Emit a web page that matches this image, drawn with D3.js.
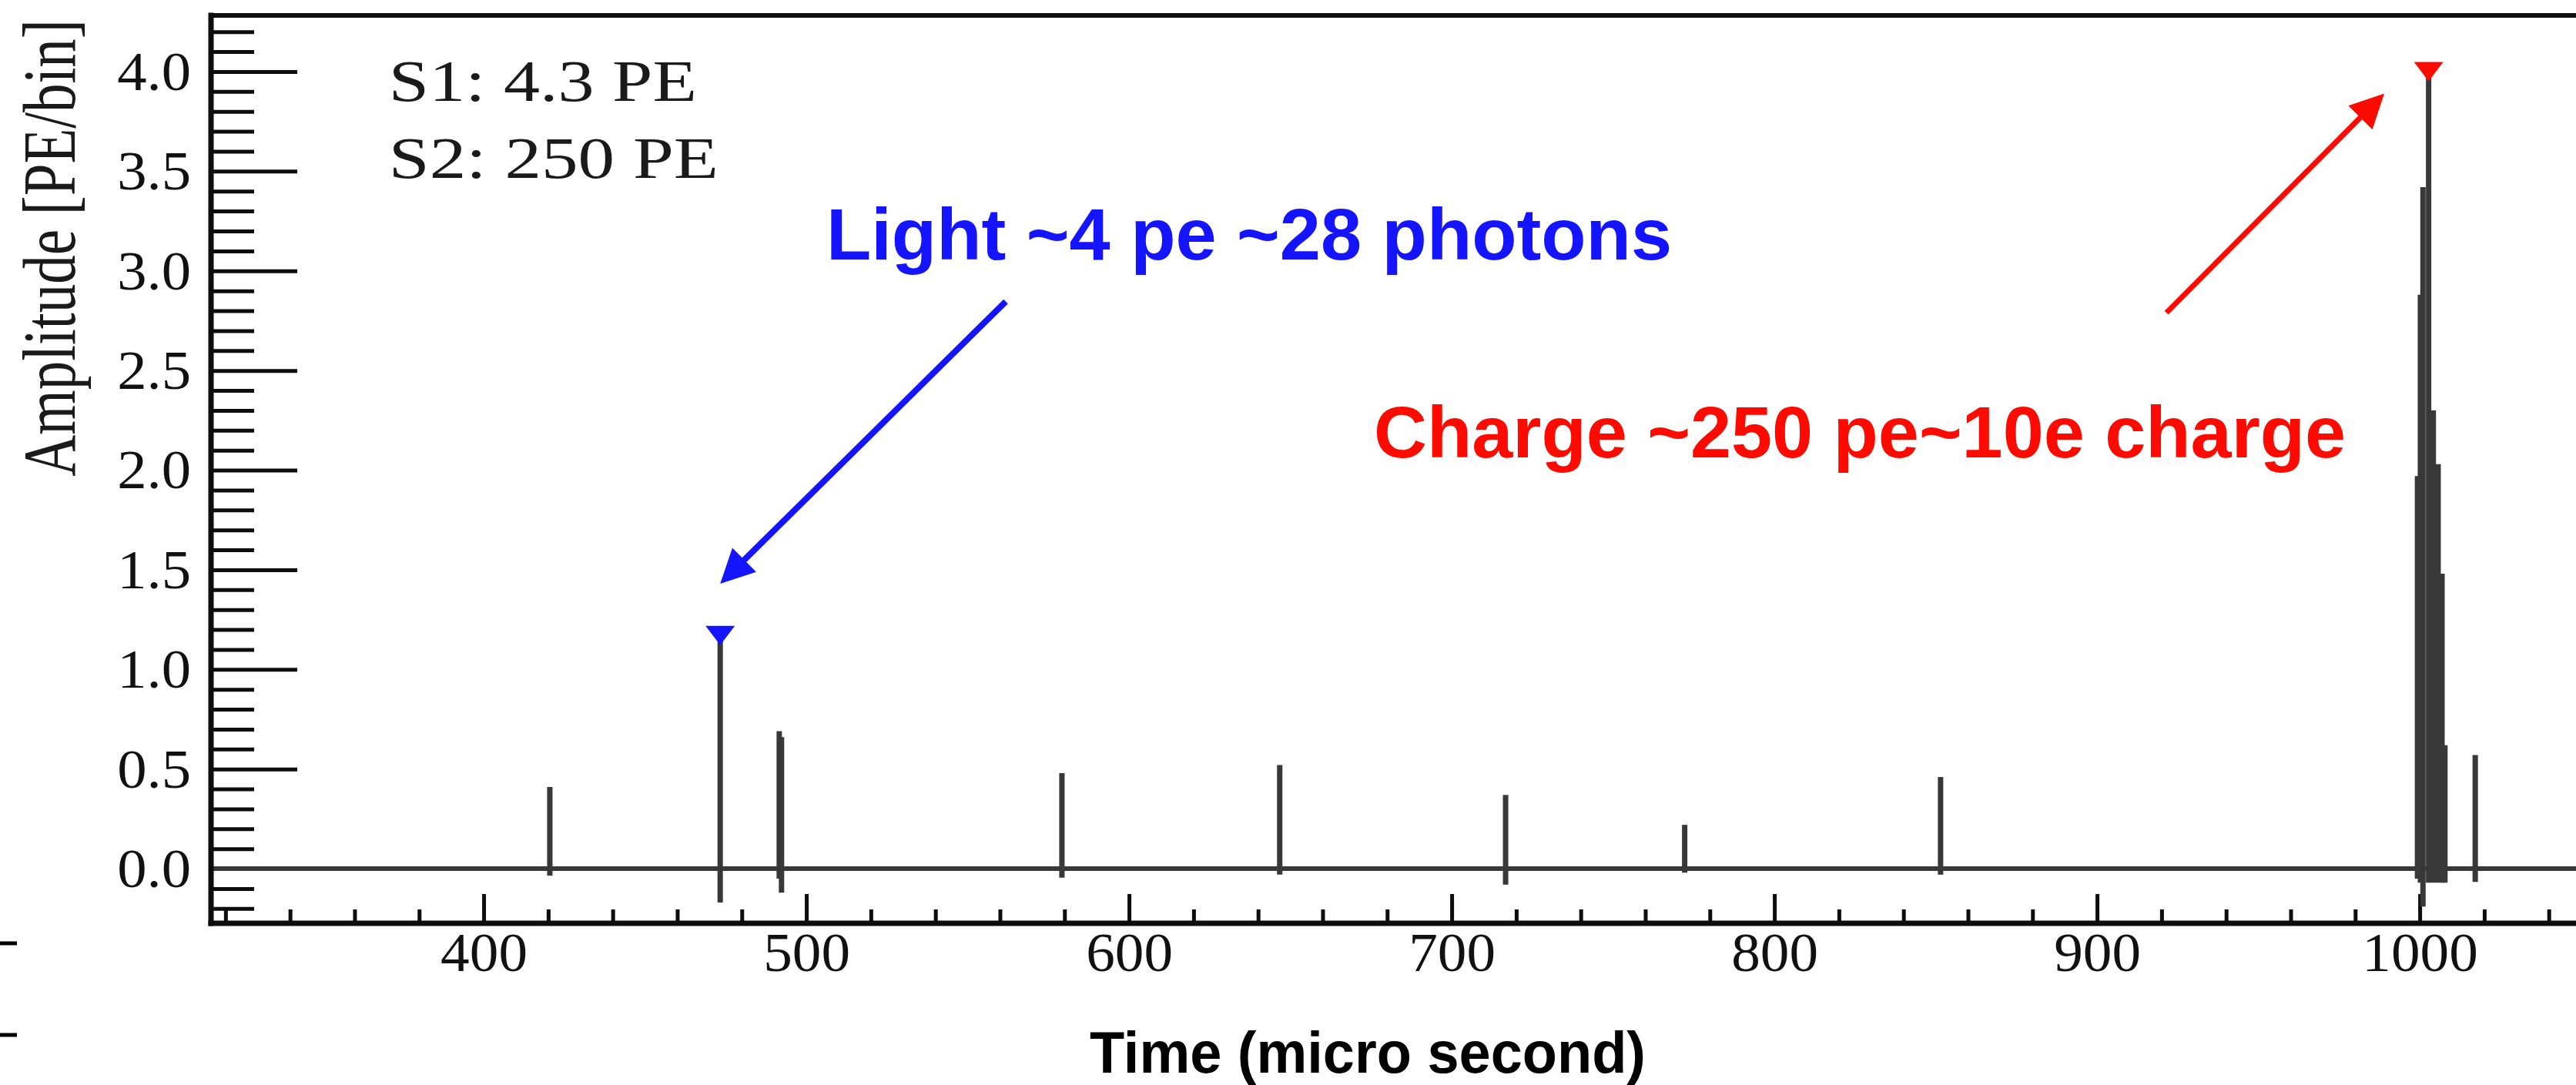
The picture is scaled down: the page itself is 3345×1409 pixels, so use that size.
<!DOCTYPE html>
<html>
<head>
<meta charset="utf-8">
<script src="https://cdn.jsdelivr.net/npm/d3@7"></script>
<style>
  html, body { margin: 0; padding: 0; background: #ffffff; }
  svg { display: block; }
</style>
</head>
<body>
<svg id="chart" width="3345" height="1409"></svg>
<script>
// ---------------- data ----------------
const spikeTime = [420.5, 473.3, 491.6, 492.3, 579.2, 646.7, 716.7, 772.2, 851.5,
                   999.3, 1000.2, 1001.0, 1002.75, 1004.2, 1005.7, 1006.9, 1007.8, 1017.2];
const spikeHigh = [0.41, 1.17, 0.69, 0.66, 0.48, 0.52, 0.37, 0.22, 0.46,
                   1.97, 2.88, 3.42, 4.00, 2.30, 2.03, 1.48, 0.62, 0.57];
const spikeLow  = [-0.035, -0.17, -0.05, -0.12, -0.045, -0.03, -0.08, -0.02, -0.03,
                   -0.05, -0.07, -0.19, -0.07, -0.07, -0.07, -0.07, -0.07, -0.066];

const peakTime = [473.3, 1002.75];
const peakAmp  = [1.17, 4.00];

const xMajorTicks = [400, 500, 600, 700, 800, 900, 1000];
const yMajorTicks = [0.0, 0.5, 1.0, 1.5, 2.0, 2.5, 3.0, 3.5, 4.0];

const infoLines = ["S1: 4.3 PE", "S2: 250 PE"];
const lightLabel = "Light ~4 pe ~28 photons";
const chargeLabel = "Charge ~250 pe~10e charge";
const xTitle = "Time (micro second)";
const yTitle = "Amplitude [PE/bin]";

// ---------------- layout ----------------
const svg = d3.select("#chart");
const W = 3345, H = 1409;
svg.append("rect").attr("width", W).attr("height", H).attr("fill", "#fff");

const x = d3.scaleLinear().domain([315.5, 1050]).range([274, 3351.6]);
const y = d3.scaleLinear().domain([-0.274, 4.282]).range([1199, 20]);

const serif = "'Liberation Serif', 'Times New Roman', serif";
const sans = "'Liberation Sans', Arial, Helvetica, sans-serif";
const inkAxis = "#0d0d0d";
const inkData = "#383838";

function stretch(sel, k) {
  sel.each(function () {
    const w = this.getComputedTextLength();
    this.setAttribute("textLength", w * k);
    this.setAttribute("lengthAdjust", "spacingAndGlyphs");
  });
}

// ---------------- minor ticks ----------------
const yMinor = d3.range(-2, 43).map(i => i / 10).filter(v => Math.abs(v * 2 - Math.round(v * 2)) > 1e-6);
const xMinor = d3.range(320, 1060, 20).filter(v => v % 100 !== 0);

const yMinorAxis = svg.append("g").attr("transform", `translate(${x.range()[0]},0)`)
  .call(d3.axisLeft(y).tickValues(yMinor).tickSizeInner(-56).tickSizeOuter(0).tickFormat(""));
const xMinorAxis = svg.append("g").attr("transform", `translate(0,${y.range()[0]})`)
  .call(d3.axisBottom(x).tickValues(xMinor).tickSizeInner(-18).tickSizeOuter(0).tickFormat(""));
[yMinorAxis, xMinorAxis].forEach(g => {
  g.select(".domain").remove();
  g.selectAll(".tick line").attr("stroke", inkAxis).attr("stroke-width", 5);
});

// ---------------- major ticks ----------------
const yAxis = svg.append("g").attr("transform", `translate(${x.range()[0]},0)`)
  .call(d3.axisLeft(y).tickValues(yMajorTicks).tickSizeInner(-112).tickSizeOuter(0)
        .tickPadding(26).tickFormat(d3.format(".1f")));
const xAxis = svg.append("g").attr("transform", `translate(0,${y.range()[0]})`)
  .call(d3.axisBottom(x).tickValues(xMajorTicks).tickSizeInner(-38).tickSizeOuter(0)
        .tickFormat(d3.format("d")));
[yAxis, xAxis].forEach(g => {
  g.select(".domain").remove();
  g.selectAll(".tick line").attr("stroke", inkAxis).attr("stroke-width", 5);
  g.selectAll(".tick text").attr("font-family", serif).attr("font-size", 71).attr("fill", "#111");
});
yAxis.selectAll(".tick text").attr("dy", "0.33em");
xAxis.selectAll(".tick text").attr("y", 62).attr("dy", 0);
stretch(yAxis.selectAll(".tick text"), 1.08);
stretch(xAxis.selectAll(".tick text"), 1.06);

// ---------------- baseline & spikes ----------------
svg.append("line")
  .attr("x1", x.range()[0]).attr("x2", W + 20)
  .attr("y1", y(0)).attr("y2", y(0))
  .attr("stroke", inkData).attr("stroke-width", 6);

svg.append("g").selectAll("line").data(spikeTime).join("line")
  .attr("x1", d => x(d)).attr("x2", d => x(d))
  .attr("y1", (d, i) => y(spikeLow[i])).attr("y2", (d, i) => y(spikeHigh[i]))
  .attr("stroke", inkData).attr("stroke-width", 7);

// ---------------- frame ----------------
const frame = svg.append("g").attr("stroke", inkAxis).attr("stroke-width", 7).attr("stroke-linecap", "square");
frame.append("line").attr("x1", x.range()[0]).attr("x2", x.range()[0]).attr("y1", y.range()[1]).attr("y2", y.range()[0]);
frame.append("line").attr("x1", x.range()[0]).attr("x2", W + 20).attr("y1", y.range()[0]).attr("y2", y.range()[0]);
frame.append("line").attr("x1", x.range()[0]).attr("x2", W + 20).attr("y1", y.range()[1]).attr("y2", y.range()[1])
  .attr("stroke-width", 6);

// ---------------- peak markers ----------------
const markerColors = ["#1414ff", "#ff0a00"];
svg.append("g").selectAll("path").data(peakTime).join("path")
  .attr("d", (d, i) => {
    const cx = x(d), cy = y(peakAmp[i]);
    return `M${cx - 19},${cy - 12.5}L${cx + 19},${cy - 12.5}L${cx},${cy + 12.5}Z`;
  })
  .attr("fill", (d, i) => markerColors[i]);

// ---------------- texts ----------------
svg.append("g").selectAll("text").data(infoLines).join("text")
  .attr("x", x(370.6))
  .attr("y", (d, i) => y(3.853 - i * 0.386))
  .attr("font-family", serif).attr("font-size", 77).attr("fill", "#1a1a1a")
  .attr("textLength", (d, i) => [400, 428][i]).attr("lengthAdjust", "spacingAndGlyphs")
  .text(d => d);

// y title (stretched glyph height like the rest of the ROOT drawing)
svg.append("text")
  .attr("transform", "translate(97,322) scale(1.3,1) rotate(-90)")
  .attr("text-anchor", "middle")
  .attr("font-family", serif).attr("font-size", 75).attr("fill", "#1a1a1a")
  .text(yTitle);

// x title
svg.append("text")
  .attr("x", 1415).attr("y", 1393)
  .attr("font-family", sans).attr("font-weight", "bold").attr("font-size", 76).attr("fill", "#000")
  .attr("textLength", 722).attr("lengthAdjust", "spacingAndGlyphs")
  .text(xTitle);

// annotations
svg.append("text")
  .attr("x", x(506.2)).attr("y", y(3.058))
  .attr("font-family", sans).attr("font-weight", "bold").attr("font-size", 95).attr("fill", "#1414ff")
  .attr("textLength", 1098).attr("lengthAdjust", "spacingAndGlyphs")
  .text(lightLabel);
svg.append("text")
  .attr("x", x(675.9)).attr("y", y(2.062))
  .attr("font-family", sans).attr("font-weight", "bold").attr("font-size", 95).attr("fill", "#ff0a00")
  .attr("textLength", 1262).attr("lengthAdjust", "spacingAndGlyphs")
  .text(chargeLabel);

function arrow(t0, a0, t1, a1, color, width) {
  const x0 = x(t0), y0 = y(a0), x1 = x(t1), y1 = y(a1);
  const dx = x1 - x0, dy = y1 - y0, L = Math.hypot(dx, dy);
  const ux = dx / L, uy = dy / L, nx = -uy, ny = ux;
  const hl = 44, hw = 22;
  const bx = x1 - ux * hl, by = y1 - uy * hl;
  svg.append("line").attr("x1", x0).attr("y1", y0).attr("x2", bx + ux * 4).attr("y2", by + uy * 4)
    .attr("stroke", color).attr("stroke-width", width);
  svg.append("path")
    .attr("d", `M${x1},${y1}L${bx + nx * hw},${by + ny * hw}L${bx - nx * hw},${by - ny * hw}Z`)
    .attr("fill", color);
}
arrow(561.8, 2.846, 473.3, 1.43, "#1414ff", 8);
arrow(921.5, 2.79, 989.0, 3.89, "#ff0a00", 7);

// small marks at the left edge of the page
svg.append("g").selectAll("line").data([1225, 1344]).join("line")
  .attr("x1", 0).attr("x2", 22).attr("y1", d => d).attr("y2", d => d)
  .attr("stroke", "#000").attr("stroke-width", 5);
</script>
</body>
</html>
